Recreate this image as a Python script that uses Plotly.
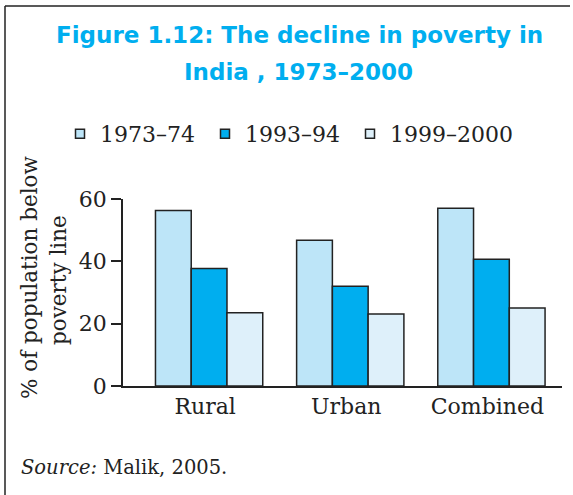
import plotly.graph_objects as go

categories = ["Rural", "Urban", "Combined"]
series_names = ["1973–74", "1993–94", "1999–2000"]
values_1973 = [56.3, 46.8, 57.0]
values_1993 = [37.7, 32.0, 40.7]
values_1999 = [23.5, 23.1, 25.0]
y_ticks = [0, 20, 40, 60]

colors = ["#BDE5F8", "#00AEEF", "#DEF0FA"]
SERIF = "DejaVu Serif"
W, H = 573, 495
L, R, T, B = 123, 11, 199, 109
pw, ph = W - L - R, H - T - B

def px(x):
    return (x - L) / pw

def py(y):
    return 1 - (y - T) / ph

legend_ids = ["legend", "legend2", "legend3"]
legend_lefts = [60, 205, 350]

fig = go.Figure()
for name, vals, col, lid in zip(series_names, [values_1973, values_1993, values_1999], colors, legend_ids):
    fig.add_trace(go.Bar(
        x=categories, y=vals, name=name, showlegend=False,
        marker=dict(color=col, line=dict(color="#222222", width=1.5)),
    ))
    # legend entry with small square swatch
    fig.add_trace(go.Scatter(
        x=[None], y=[None], name=name, mode="markers", legend=lid,
        marker=dict(symbol="square", size=9, color=col, line=dict(color="#222222", width=1.5)),
    ))

legend_common = dict(orientation="h", xanchor="left", yanchor="middle",
                     font=dict(family=SERIF, size=22, color="#222222"),
                     bgcolor="rgba(0,0,0,0)")
legends = {lid: dict(legend_common, x=px(xl), y=py(134)) for lid, xl in zip(legend_ids, legend_lefts)}

fig.update_layout(
    width=W, height=H,
    margin=dict(l=L, r=R, t=T, b=B, autoexpand=False),
    paper_bgcolor="white", plot_bgcolor="white",
    barmode="group", bargap=0.24, bargroupgap=0,
    showlegend=True,
    font=dict(family=SERIF, color="#222222"),
    xaxis=dict(range=[-0.61, 2.5], showline=True, linecolor="#222222", linewidth=1.5,
               ticks="", showgrid=False, zeroline=False, ticklabelshift=-4,
               tickfont=dict(family=SERIF, size=22, color="#222222")),
    yaxis=dict(range=[0, 60], tickvals=y_ticks, showline=True, linecolor="#222222",
               linewidth=1.5, ticks="outside", ticklen=10, tickwidth=1.5,
               tickcolor="#222222", showgrid=False, zeroline=False,
               tickfont=dict(family=SERIF, size=22, color="#222222")),
    **legends,
)

title_font = dict(family="DejaVu Sans", size=23, color="#00AEEF")
fig.add_annotation(text="<b>Figure 1.12: The decline in poverty in</b>", xref="paper", yref="paper",
                   x=px(299), y=py(35), showarrow=False, font=title_font, xanchor="center", yanchor="middle")
fig.add_annotation(text="<b>India , 1973–2000</b>", xref="paper", yref="paper",
                   x=px(298), y=py(72), showarrow=False, font=title_font, xanchor="center", yanchor="middle")

ytitle_font = dict(family=SERIF, size=21.5, color="#222222")
fig.add_annotation(text="% of population below", xref="paper", yref="paper", textangle=-90,
                   x=px(29), y=py(278), showarrow=False, font=ytitle_font, xanchor="center", yanchor="middle")
fig.add_annotation(text="poverty line", xref="paper", yref="paper", textangle=-90,
                   x=px(58), y=py(280), showarrow=False, font=ytitle_font, xanchor="center", yanchor="middle")

fig.add_annotation(text="<i>Source:</i> Malik, 2005.", xref="paper", yref="paper",
                   x=px(19), y=py(467), showarrow=False, font=dict(family=SERIF, size=19.5, color="#222222"),
                   xanchor="left", yanchor="middle")

# frame
fig.add_shape(type="line", xref="paper", yref="paper", x0=px(5), x1=px(5), y0=py(6), y1=py(500),
              line=dict(color="#222222", width=1.5))
fig.add_shape(type="line", xref="paper", yref="paper", x0=px(5), x1=px(570), y0=py(6), y1=py(6),
              line=dict(color="#222222", width=1.5))

fig.write_html("out.html", config={"displayModeBar": False},
               post_script="document.body.style.margin='0px';")
